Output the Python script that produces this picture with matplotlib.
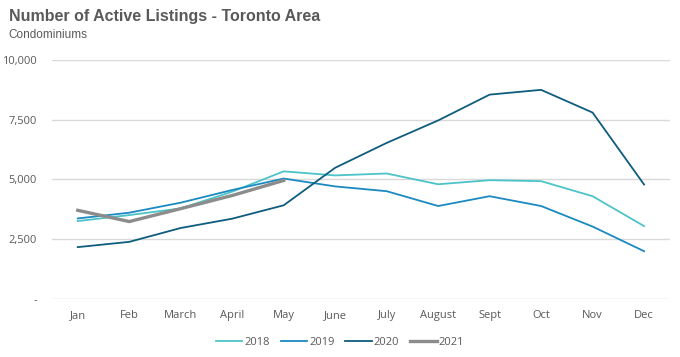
import numpy as np
import matplotlib.pyplot as plt
from matplotlib.ticker import FixedLocator

months = ['Jan', 'Feb', 'March', 'April', 'May', 'June', 'July', 'August',
          'Sept', 'Oct', 'Nov', 'Dec']

listings_2018 = [3260, 3510, 3790, 4490, 5340, 5170, 5250, 4800, 4970, 4930, 4300, 3050]
listings_2019 = [3370, 3610, 4030, 4560, 5040, 4710, 4510, 3890, 4300, 3890, 3030, 2000]
listings_2020 = [2170, 2390, 2970, 3360, 3920, 5490, 6530, 7470, 8550, 8750, 7800, 4790]
listings_2021 = [3710, 3240, 3780, 4330, 4960]

y_ticks = [0, 2500, 5000, 7500, 10000]
y_tick_labels = ['-', '2,500', '5,000', '7,500', '10,000']

text_color = '#595959'

fig = plt.figure(figsize=(6.8, 3.57), dpi=100)
ax = fig.add_axes([0.0765, 0.1625, 0.9085, 0.6695])

x = np.arange(len(months))
ax.plot(x, listings_2018, color='#4CC3C8', lw=1.3, label='2018')
ax.plot(x, listings_2019, color='#1B89C2', lw=1.3, label='2019')
ax.plot(x, listings_2020, color='#0E5C7E', lw=1.3, label='2020')
ax.plot(x[:len(listings_2021)], listings_2021, color='#8C8C8C', lw=2.4, label='2021')

ax.set_xlim(-0.5, len(months) - 0.5)
ax.set_ylim(0, 10000)
ax.yaxis.set_major_locator(FixedLocator(y_ticks))
ax.set_yticklabels(y_tick_labels)
ax.set_xticks(x)
ax.set_xticklabels(months)

ax.grid(axis='y', color='#D9D9D9', lw=1)
ax.set_axisbelow(True)
for side in ['top', 'right', 'left', 'bottom']:
    ax.spines[side].set_visible(False)
ax.tick_params(length=0, labelsize=8, colors=text_color)
ax.tick_params(axis='x', pad=8)
ax.tick_params(axis='y', pad=11)
for lbl in ax.get_xticklabels() + ax.get_yticklabels():
    lbl.set_fontfamily('Open Sans')

fig.text(0.013, 0.955, 'Number of Active Listings - Toronto Area', fontsize=11.5,
         fontweight='bold', color=text_color, family='Liberation Sans', va='center')
fig.text(0.013, 0.903, 'Condominiums', fontsize=8.5, color=text_color,
         family='Liberation Sans', va='center')

leg = fig.legend(loc='center', bbox_to_anchor=(0.5, 0.042), ncol=4, frameon=False,
                 handlelength=2.4, handletextpad=0.15, columnspacing=1.0,
                 prop={'family': 'Open Sans', 'size': 8})
for t in leg.get_texts():
    t.set_color(text_color)

fig.savefig('out.png', dpi=100)
